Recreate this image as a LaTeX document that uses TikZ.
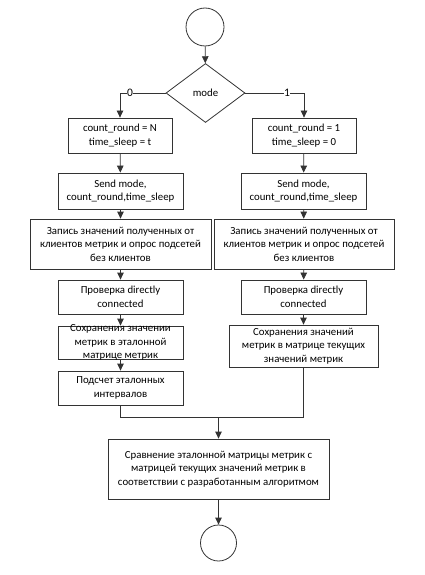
\documentclass[tikz,border=0pt]{standalone}
\usepackage{fontspec}
\setmainfont{Carlito}
\usetikzlibrary{shapes.geometric,arrows.meta}
\begin{document}
\begin{tikzpicture}[x=1pt,y=-1pt,
  every node/.style={font=\fontsize{10.8}{13.5}\selectfont},
  box/.style={draw=black!80, line width=0.8pt, rectangle, inner sep=0pt, align=center},
  term/.style={draw=black!80, line width=0.8pt, circle, inner sep=0pt},
  cond/.style={draw=black!80, line width=0.8pt, diamond, inner sep=0pt, minimum width=79pt, minimum height=59pt},
  flow/.style={draw=black!80, line width=0.8pt, -{Triangle[length=7pt,width=6.5pt]}},
  line/.style={draw=black!80, line width=0.8pt},
  lbl/.style={fill=white, inner sep=0.5pt, font=\fontsize{11.5}{13}\selectfont}]
\useasboundingbox (0,0) rectangle (424,575);
\node[term, minimum size=38pt] (start) at (205,27) {};
\node[cond] (mode) at (205.5,93) {mode};
\node[box, minimum width=104pt, minimum height=35pt] (L1) at (120,135.5) {count\_round = N\\time\_sleep = t};
\node[box, minimum width=104pt, minimum height=35pt] (R1) at (304,135.5) {count\_round = 1\\time\_sleep = 0};
\node[box, minimum width=125pt, minimum height=36pt] (L2) at (120.5,191) {Send mode,\\count\_round,time\_sleep};
\node[box, minimum width=125pt, minimum height=36pt] (R2) at (303.5,191) {Send mode,\\count\_round,time\_sleep};
\node[box, minimum width=181pt, minimum height=50pt] (L3) at (120.5,244) {Запись значений полученных от\\клиентов метрик и опрос подсетей\\без клиентов};
\node[box, minimum width=180pt, minimum height=50pt] (R3) at (304,244) {Запись значений полученных от\\клиентов метрик и опрос подсетей\\без клиентов};
\node[box, minimum width=125pt, minimum height=34pt] (L4) at (120.5,297) {Проверка directly\\connected};
\node[box, minimum width=125pt, minimum height=34pt] (R4) at (303.5,297) {Проверка directly\\connected};
\node[box, minimum width=125pt, minimum height=33pt] (L5) at (120.5,342.5) {};
\node[align=center, inner sep=0pt] (L5t) at (L5.center) {Сохранения значении\\метрик в эталонной\\матрице метрик};
\node[box, minimum width=149pt, minimum height=42pt] (R5) at (303.5,346) {Сохранения значений\\метрик в матрице текущих\\значений метрик};
\node[box, minimum width=125pt, minimum height=34pt] (L6) at (120.5,388) {Подсчет эталонных\\интервалов};
\coordinate (m) at (218.5,417);
\node[box, minimum width=221pt, minimum height=60pt] (F) at (218.5,469) {Сравнение эталонной матрицы метрик с\\матрицей текущих значений метрик в\\соответствии с разработанным алгоритмом};
\node[term, minimum size=36pt] (end) at (218.5,543) {};
\draw[flow] (start) -- (mode);
\draw[flow] (mode.west) -| (L1.north);
\draw[flow] (mode.east) -| (R1.north);
\node[lbl] (zero) at (130,93) {0};
\node[lbl] (one) at (287,93) {1};
\draw[flow] (L1) -- (L2);
\draw[flow] (R1) -- (R2);
\draw[flow] (L2) -- (L3);
\draw[flow] (R2) -- (R3);
\draw[flow] (L3) -- (L4);
\draw[flow] (R3) -- (R4);
\draw[flow] (L4) -- (L5);
\draw[flow] (R4) -- (R5);
\draw[flow] (L5) -- (L6);
\draw[line] (L6.south) |- (m);
\draw[line] (R5.south) |- (m);
\draw[flow] (m) -- (F.north);
\draw[flow] (F) -- (end);
\end{tikzpicture}
\end{document}
